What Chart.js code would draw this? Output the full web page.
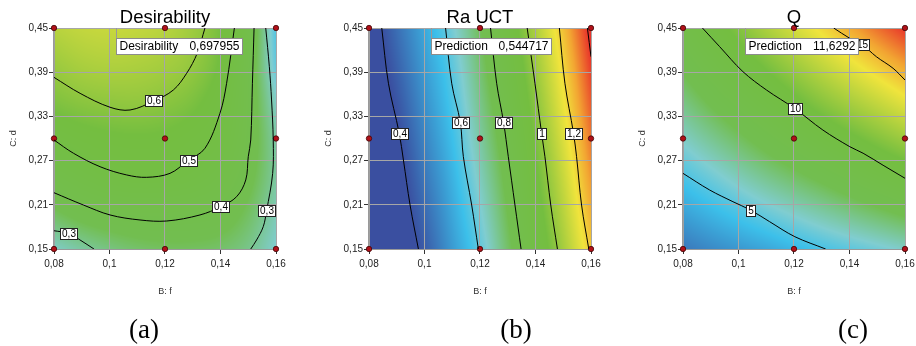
<!DOCTYPE html>
<html><head><meta charset="utf-8">
<script src="https://cdn.jsdelivr.net/npm/chart.js@4.4.0/dist/chart.umd.min.js"></script>
<style>
html,body{margin:0;padding:0;background:#fff;width:916px;height:346px;overflow:hidden;}
body{position:relative;}
.c{position:absolute;top:0;width:300px;height:346px;}
</style></head><body>
<div class="c" style="left:0px"><canvas id="ca" width="300" height="346"></canvas></div>
<div class="c" style="left:315px"><canvas id="cb" width="300" height="346"></canvas></div>
<div class="c" style="left:629px"><canvas id="cc" width="300" height="346"></canvas></div>
<script>
// ---- axes ----
const fTicks = [0.08, 0.10, 0.12, 0.14, 0.16];
const fTickLabels = ['0,08', '0,1', '0,12', '0,14', '0,16'];
const dTicks = [0.15, 0.21, 0.27, 0.33, 0.39, 0.45];
const dTickLabels = ['0,15', '0,21', '0,27', '0,33', '0,39', '0,45'];

// ---- response surface grids (rows: d = gridD, cols: f = gridF) ----
const gridF = [0.08, 0.09, 0.10, 0.11, 0.12, 0.13, 0.14, 0.15, 0.16];
const gridD = [0.15, 0.20, 0.25, 0.30, 0.35, 0.40, 0.45];
const desirabilityGrid = [
  [0.25, 0.285, 0.315, 0.335, 0.345, 0.345, 0.335, 0.305, 0.24],
  [0.35, 0.385, 0.405, 0.415, 0.415, 0.41, 0.395, 0.345, 0.265],
  [0.433, 0.465, 0.49, 0.50, 0.497, 0.48, 0.445, 0.38, 0.285],
  [0.50, 0.525, 0.54, 0.545, 0.54, 0.52, 0.485, 0.40, 0.28],
  [0.57, 0.59, 0.60, 0.603, 0.59, 0.565, 0.51, 0.405, 0.25],
  [0.62, 0.645, 0.655, 0.65, 0.635, 0.605, 0.54, 0.41, 0.21],
  [0.67, 0.69, 0.698, 0.69, 0.67, 0.625, 0.555, 0.43, 0.19]
];
const raGrid = [
  [0.30, 0.355, 0.42, 0.513, 0.608, 0.738, 0.879, 1.037, 1.216],
  [0.31, 0.365, 0.44, 0.532, 0.633, 0.762, 0.907, 1.069, 1.253],
  [0.32, 0.375, 0.46, 0.55, 0.658, 0.786, 0.935, 1.10, 1.288],
  [0.33, 0.39, 0.479, 0.569, 0.682, 0.811, 0.962, 1.132, 1.323],
  [0.34, 0.409, 0.498, 0.587, 0.706, 0.838, 0.991, 1.163, 1.358],
  [0.35, 0.428, 0.516, 0.605, 0.73, 0.867, 1.021, 1.193, 1.392],
  [0.36, 0.447, 0.534, 0.63, 0.753, 0.894, 1.052, 1.228, 1.426]
];
const qGrid = [
  [3.0, 3.4, 3.75, 4.1, 4.5, 4.9, 5.25, 5.6, 6.0],
  [4.0, 4.5, 5.0, 5.5, 6.0, 6.5, 7.0, 7.5, 8.0],
  [5.0, 5.6, 6.25, 6.9, 7.5, 8.1, 8.75, 9.4, 10.0],
  [6.0, 6.75, 7.5, 8.25, 9.0, 9.75, 10.5, 11.25, 12.0],
  [7.0, 7.9, 8.75, 9.6, 10.5, 11.4, 12.25, 13.1, 14.0],
  [8.0, 9.0, 10.0, 11.0, 12.0, 13.0, 14.0, 15.0, 16.0],
  [9.0, 10.1, 11.25, 12.4, 13.5, 14.6, 15.75, 16.9, 18.0]
];

// ---- design points ----
const designF = [0.08, 0.12, 0.16, 0.08, 0.12, 0.16, 0.08, 0.12, 0.16];
const designD = [0.15, 0.15, 0.15, 0.30, 0.30, 0.30, 0.45, 0.45, 0.45];

// ---- contour lines [f, d] ----
const des06 = [[0.08,0.383],[0.0894,0.3613],[0.1002,0.3424],[0.1074,0.3387],[0.116,0.351],[0.123,0.3658],[0.1278,0.3885],[0.1316,0.4156],[0.1344,0.45]];
const des05 = [[0.08,0.298],[0.087,0.280],[0.0966,0.2617],[0.1062,0.2505],[0.1134,0.2473],[0.1218,0.2527],[0.1281,0.2695],[0.1344,0.2867],[0.1398,0.3342],[0.1422,0.3749],[0.145,0.45]];
const des04 = [[0.08,0.2264],[0.0906,0.2097],[0.1002,0.1962],[0.111,0.1894],[0.1206,0.188],[0.1326,0.1962],[0.1401,0.2074],[0.1458,0.221],[0.1491,0.2437],[0.15,0.2753],[0.1509,0.298],[0.1515,0.375],[0.1521,0.45]];
const des03r = [[0.1563,0.45],[0.1576,0.3975],[0.1584,0.3523],[0.159,0.298],[0.1588,0.2527],[0.1566,0.2015],[0.1554,0.1803],[0.153,0.1622],[0.1509,0.15]];
const des03l = [[0.08,0.1748],[0.0852,0.1713],[0.0894,0.1622],[0.0944,0.15]];
const ra04 = [[0.0846,0.45],[0.087,0.375],[0.0909,0.307],[0.0924,0.2708],[0.0948,0.2097],[0.0978,0.15]];
const ra06 = [[0.1076,0.45],[0.1098,0.375],[0.1129,0.3219],[0.114,0.2753],[0.117,0.2097],[0.1194,0.15]];
const ra08 = [[0.1238,0.45],[0.126,0.375],[0.1285,0.3219],[0.1302,0.2753],[0.1326,0.2097],[0.1348,0.15]];
const ra10 = [[0.137,0.45],[0.1398,0.375],[0.1422,0.307],[0.1434,0.2753],[0.1455,0.2097],[0.1479,0.15]];
const ra12 = [[0.1486,0.45],[0.1506,0.375],[0.1537,0.307],[0.1548,0.2753],[0.1566,0.2097],[0.1592,0.15]];
const ra14 = [[0.1587,0.45],[0.16,0.411]];
const q15 = [[0.1343,0.45],[0.1401,0.436],[0.1444,0.4279],[0.1497,0.411],[0.1557,0.3953],[0.16,0.3794]];
const q10 = [[0.087,0.45],[0.0932,0.4247],[0.1016,0.3907],[0.1101,0.3658],[0.1203,0.3405],[0.1304,0.3115],[0.1401,0.2889],[0.1449,0.280],[0.1521,0.2637],[0.16,0.246]];
const q5 = [[0.08,0.2527],[0.0896,0.2301],[0.098,0.2142],[0.1043,0.2029],[0.1112,0.1871],[0.1203,0.1667],[0.1314,0.15]];

// ---- contour labels ----
const desLabels = [{t:'0,6',f:0.1159,d:0.3518},{t:'0,5',f:0.1283,d:0.2695},{t:'0,4',f:0.1401,d:0.2074},{t:'0,3',f:0.1566,d:0.2016},{t:'0,3',f:0.0852,d:0.1717}];
const raLabels = [{t:'0,4',f:0.0909,d:0.307},{t:'0,6',f:0.1129,d:0.3219},{t:'0,8',f:0.1285,d:0.3219},{t:'1',f:0.1422,d:0.307},{t:'1,2',f:0.1537,d:0.307}];
const qLabels = [{t:'15',f:0.1444,d:0.4279},{t:'10',f:0.1203,d:0.3405},{t:'5',f:0.1043,d:0.2029}];

// ---- flags ----
const flagF = 0.1022, flagD = 0.45;
const flagNames = ['Desirability', 'Prediction', 'Prediction'];
const flagValues = ['0,697955', '0,544717', '11,6292'];

const titles = ['Desirability', 'Ra UCT', 'Q'];
const letters = ['(a)', '(b)', '(c)'];

// colour map (normalised position, rgb)
const cmap = [[0,[58,79,160]],[0.17,[60,192,234]],[0.24,[128,205,208]],[0.36,[114,190,80]],[0.55,[116,190,64]],[0.77,[240,228,60]],[0.87,[242,165,50]],[1,[232,52,42]]];
function colorAt(t){
  if (t<=0) return cmap[0][1]; if (t>=1) return cmap[cmap.length-1][1];
  for (let k=1;k<cmap.length;k++){ if (t<=cmap[k][0]) { const a=cmap[k-1], b=cmap[k]; const u=(t-a[0])/(b[0]-a[0]);
    return [a[1][0]+(b[1][0]-a[1][0])*u, a[1][1]+(b[1][1]-a[1][1])*u, a[1][2]+(b[1][2]-a[1][2])*u]; } }
  return cmap[cmap.length-1][1];
}
function cr(p0,p1,p2,p3,t){ return p1 + 0.5*t*(p2-p0 + t*(2*p0-5*p1+4*p2-p3 + t*(3*(p1-p2)+p3-p0))); }
function sampleGrid(grid, x, y){
  const nx=gridF.length, ny=gridD.length;
  const u=(x-gridF[0])/(gridF[1]-gridF[0]), v=(y-gridD[0])/(gridD[1]-gridD[0]);
  let i=Math.min(nx-2,Math.max(0,Math.floor(u))), j=Math.min(ny-2,Math.max(0,Math.floor(v)));
  const tu=u-i, tv=v-j;
  const g=(a,b)=>{
    const row=(bb)=>{ const r=grid[bb];
      if (a<0) return 2*r[0]-r[1]; if (a>nx-1) return 2*r[nx-1]-r[nx-2]; return r[a]; };
    if (b<0) return 2*row(0)-row(1); if (b>ny-1) return 2*row(ny-1)-row(ny-2); return row(b);
  };
  const rs=[]; for (let k=-1;k<=2;k++) rs.push(cr(g(i-1,j+k),g(i,j+k),g(i+1,j+k),g(i+2,j+k),tu));
  return cr(rs[0],rs[1],rs[2],rs[3],tv);
}

const panels = [
  {id:'ca', left:0, grid:desirabilityGrid, lo:0, hi:1, contours:[des06,des05,des04,des03r,des03l], labels:desLabels, letterX:144},
  {id:'cb', left:315, grid:raGrid, lo:0.40, hi:1.40, contours:[ra04,ra06,ra08,ra10,ra12,ra14], labels:raLabels, letterX:516},
  {id:'cc', left:629, grid:qGrid, lo:2, hi:18, contours:[q15,q10,q5], labels:qLabels, letterX:853}
];

const SANS = '"Liberation Sans", Arial, sans-serif';

panels.forEach((p, idx) => {
  const heat = {
    id:'heat',
    beforeDraw(chart){
      const a=chart.chartArea, xs=chart.scales.x, ys=chart.scales.y, ctx=chart.ctx;
      const w=Math.round(a.right-a.left), h=Math.round(a.bottom-a.top);
      const off=document.createElement('canvas'); off.width=w; off.height=h;
      const octx=off.getContext('2d'); const img=octx.createImageData(w,h);
      for (let j=0;j<h;j++){
        const dv=ys.getValueForPixel(a.top+j+0.5);
        for (let i=0;i<w;i++){
          const fv=xs.getValueForPixel(a.left+i+0.5);
          const val=sampleGrid(p.grid,fv,dv);
          const c=colorAt((val-p.lo)/(p.hi-p.lo));
          const o=(j*w+i)*4; img.data[o]=c[0]; img.data[o+1]=c[1]; img.data[o+2]=c[2]; img.data[o+3]=255;
        }
      }
      octx.putImageData(img,0,0);
      ctx.drawImage(off,a.left,a.top);
    },
    afterDatasetsDraw(chart){
      const a=chart.chartArea, xs=chart.scales.x, ys=chart.scales.y, ctx=chart.ctx;
      ctx.save();
      // contour labels
      ctx.font='10px '+SANS; ctx.textAlign='center'; ctx.textBaseline='middle';
      p.labels.forEach(L=>{
        const px=xs.getPixelForValue(L.f), py=ys.getPixelForValue(L.d);
        const w=Math.round(ctx.measureText(L.t).width+3), h=11;
        const x0=Math.round(px-w/2)+0.5, y0=Math.round(py-h/2)+0.5;
        ctx.fillStyle='#fff'; ctx.fillRect(x0,y0,w,h);
        ctx.strokeStyle='#222'; ctx.lineWidth=1; ctx.strokeRect(x0,y0,w,h);
        ctx.fillStyle='#000'; ctx.fillText(L.t, x0+w/2, y0+h/2+0.5);
      });
      // prediction flag
      const fx=Math.round(xs.getPixelForValue(flagF))+0.5, fy=ys.getPixelForValue(flagD);
      ctx.font='12px '+SANS;
      const nW=ctx.measureText(flagNames[idx]).width, vW=ctx.measureText(flagValues[idx]).width;
      const bw=Math.round(nW+vW+17), bh=16, by=Math.round(fy+10)+0.5;
      ctx.strokeStyle='#999'; ctx.lineWidth=1;
      ctx.beginPath(); ctx.moveTo(fx,fy); ctx.lineTo(fx,by); ctx.stroke();
      ctx.fillStyle='#fff'; ctx.fillRect(fx,by,bw,bh);
      ctx.strokeStyle='#8c8c8c'; ctx.strokeRect(fx,by,bw,bh);
      ctx.fillStyle='#000'; ctx.textBaseline='middle';
      ctx.textAlign='left'; ctx.fillText(flagNames[idx], fx+3, by+bh/2+0.5);
      ctx.textAlign='right'; ctx.fillText(flagValues[idx], fx+bw-3, by+bh/2+0.5);
      ctx.restore();
    },
    afterDraw(chart){
      const a=chart.chartArea, ctx=chart.ctx; const cx=(a.left+a.right)/2;
      ctx.save(); ctx.fillStyle='#000';
      ctx.font='18.5px '+SANS; ctx.textAlign='center'; ctx.textBaseline='alphabetic';
      ctx.fillText(titles[idx], cx, 22.5);
      ctx.fillStyle='#333'; ctx.font='9px '+SANS; ctx.textBaseline='middle';
      ctx.fillText('B: f', cx, 292);
      ctx.save(); ctx.translate(a.left-40,(a.top+a.bottom)/2); ctx.rotate(-Math.PI/2);
      ctx.fillText('C: d', 0, 0); ctx.restore();
      ctx.fillStyle='#000'; ctx.font='27px "Liberation Serif", "Times New Roman", serif'; ctx.textBaseline='alphabetic';
      ctx.fillText(letters[idx], p.letterX-p.left, 338);
      ctx.restore();
    }
  };

  const datasets = p.contours.map(c => ({
    data: c.map(pt => ({x:pt[0], y:pt[1]})),
    showLine:true, borderColor:'#000', borderWidth:1, pointRadius:0, tension:0.35, fill:false
  }));
  datasets.push({
    data: designF.map((f,i)=>({x:f, y:designD[i]})),
    showLine:false, pointRadius:2.7, pointBackgroundColor:'#b01018', pointBorderColor:'#400606', pointBorderWidth:0.8, clip:false
  });

  new Chart(document.getElementById(p.id), {
    type:'scatter',
    data:{datasets},
    plugins:[heat],
    options:{
      responsive:false, animation:false, events:[],
      layout:{padding:{left:0, top:28, right:24, bottom:57}},
      plugins:{legend:{display:false}, tooltip:{enabled:false}, title:{display:false}},
      scales:{
        x:{type:'linear', min:0.08, max:0.16,
          afterBuildTicks:s=>{ s.ticks=fTicks.map(v=>({value:v})); },
          afterFit:s=>{ s.height=40; },
          ticks:{autoSkip:false, maxRotation:0, padding:4, color:'#222', font:{family:SANS, size:10},
            callback:(v)=>{ const k=fTicks.findIndex(t=>Math.abs(t-v)<1e-9); return k>=0?fTickLabels[k]:''; }},
          grid:{color:'#a6a6a6', lineWidth:1, tickLength:5, tickColor:'#333'},
          border:{display:true, color:'#999', width:1}
        },
        y:{type:'linear', min:0.15, max:0.45,
          afterBuildTicks:s=>{ s.ticks=dTicks.map(v=>({value:v})); },
          afterFit:s=>{ s.width=54; },
          ticks:{autoSkip:false, padding:1, color:'#222', font:{family:SANS, size:10},
            callback:(v)=>{ const k=dTicks.findIndex(t=>Math.abs(t-v)<1e-9); return k>=0?dTickLabels[k]:''; }},
          grid:{color:'#a6a6a6', lineWidth:1, tickLength:5, tickColor:'#333'},
          border:{display:true, color:'#999', width:1.5}
        }
      }
    }
  });
});
</script>
</body></html>
